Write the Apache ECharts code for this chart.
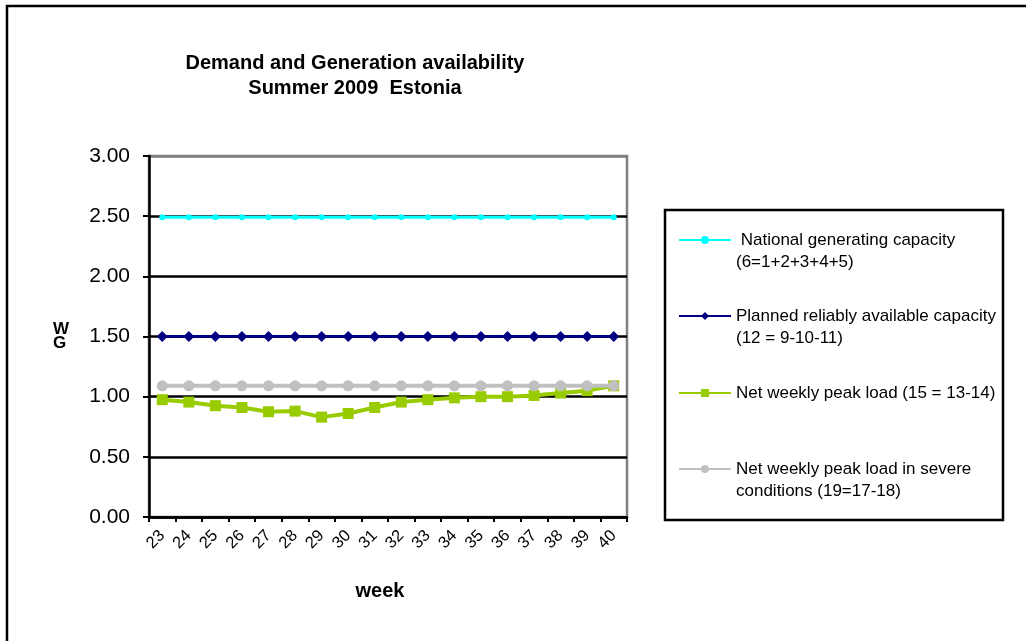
<!DOCTYPE html>
<html>
<head>
<meta charset="utf-8">
<script src="https://cdn.jsdelivr.net/npm/echarts@6/dist/echarts.min.js"></script>
<style>html,body{margin:0;padding:0;background:#fff;}#c{width:1026px;height:641px;}</style>
</head>
<body>
<div id="c"></div>
<script>
var weeks = ['23','24','25','26','27','28','29','30','31','32','33','34','35','36','37','38','39','40'];
var nationalCapacity = [2.49,2.49,2.49,2.49,2.49,2.49,2.49,2.49,2.49,2.49,2.49,2.49,2.49,2.49,2.49,2.49,2.49,2.49];
var reliableCapacity = [1.50,1.50,1.50,1.50,1.50,1.50,1.50,1.50,1.50,1.50,1.50,1.50,1.50,1.50,1.50,1.50,1.50,1.50];
var netPeakLoad = [0.975,0.955,0.925,0.91,0.875,0.88,0.83,0.86,0.91,0.955,0.975,0.99,1.00,1.00,1.01,1.03,1.05,1.09];
var severePeakLoad = [1.09,1.09,1.09,1.09,1.09,1.09,1.09,1.09,1.09,1.09,1.09,1.09,1.09,1.09,1.09,1.09,1.09,1.09];
var yTicks = ['0.00','0.50','1.00','1.50','2.00','2.50','3.00'];
var seriesNames = [' National generating capacity', 'Planned reliably available capacity', 'Net weekly peak load (15 = 13-14)', 'Net weekly peak load in severe'];
var secondLines = ['(6=1+2+3+4+5)', '(12 = 9-10-11)', '', 'conditions (19=17-18)'];

var FONT = 'Liberation Sans, Arial, sans-serif';
var chart = echarts.init(document.getElementById('c'));

function mkLegend(i, top) {
  var two = secondLines[i] !== '';
  return {
    data: [seriesNames[i]],
    left: 678,
    top: top,
    orient: 'vertical',
    itemWidth: 52,
    itemHeight: 10,
    itemGap: 0,
    padding: 0,
    selectedMode: false,
    formatter: function (n) { return two ? ' \n' + n + '\n' + secondLines[i] : n; },
    textStyle: { fontFamily: FONT, fontSize: 17, color: '#000', lineHeight: 22 }
  };
}

chart.setOption({
  animation: false,
  backgroundColor: '#fff',
  title: {
    text: 'Demand and Generation availability\nSummer 2009  Estonia',
    left: 350,
    top: 46,
    textAlign: 'center',
    textStyle: { fontFamily: FONT, fontSize: 20, fontWeight: 'bold', color: '#000', lineHeight: 25 }
  },
  graphic: [
    { type: 'rect', shape: { x: 7, y: 6, width: 1040, height: 660 }, style: { fill: 'none', stroke: '#000', lineWidth: 2.5 }, silent: true, z: 0 },
    { type: 'rect', shape: { x: 665, y: 210, width: 338, height: 310 }, style: { fill: 'none', stroke: '#000', lineWidth: 2.5 }, silent: true, z: 0 },
    { type: 'text', left: 53, top: 321, style: { text: 'W\nG', fontFamily: FONT, fontSize: 17, fontWeight: 'bold', fill: '#000', lineHeight: 14, align: 'center' }, silent: true }
  ],
  legend: [
    mkLegend(0, 207),
    mkLegend(1, 283),
    mkLegend(2, 382),
    mkLegend(3, 436)
  ],
  grid: { left: 149, right: 399, top: 156, bottom: 124, show: true, borderColor: '#808080', borderWidth: 2.5, backgroundColor: '#fff' },
  xAxis: {
    type: 'category',
    data: weeks,
    boundaryGap: true,
    name: 'week',
    nameLocation: 'middle',
    nameGap: 64,
    nameTextStyle: { fontFamily: FONT, fontSize: 20, fontWeight: 'bold', color: '#000', padding: [0, 16, 0, 0] },
    axisLine: { lineStyle: { color: '#000', width: 2.5 } },
    axisTick: { show: true, interval: 0, length: 5, lineStyle: { color: '#000', width: 2 } },
    axisLabel: { interval: 0, rotate: 45, fontFamily: FONT, fontSize: 16.5, color: '#000', margin: 16 },
    splitLine: { show: false }
  },
  yAxis: {
    type: 'value',
    min: 0,
    max: 3,
    interval: 0.5,
    axisLine: { show: true, lineStyle: { color: '#000', width: 2.5 } },
    axisTick: { show: true, length: 6, lineStyle: { color: '#000', width: 2 } },
    axisLabel: { fontFamily: FONT, fontSize: 21, color: '#000', margin: 19,
      formatter: function (v) { return yTicks[Math.round(v / 0.5)]; } },
    splitLine: { show: true, lineStyle: { color: ['#000','#000','#000','#000','#000','#000','#808080'], width: 2.5 } }
  },
  series: [
    { name: seriesNames[0], type: 'line', data: nationalCapacity, symbol: 'circle', symbolSize: 6,
      itemStyle: { color: '#00FFFF' }, lineStyle: { color: '#00FFFF', width: 3 }, z: 3 },
    { name: seriesNames[1], type: 'line', data: reliableCapacity, symbol: 'diamond', symbolSize: 11,
      itemStyle: { color: '#000080' }, lineStyle: { color: '#000080', width: 3 }, z: 3 },
    { name: seriesNames[2], type: 'line', data: netPeakLoad, symbol: 'rect', symbolSize: 11,
      itemStyle: { color: '#99CC00' }, lineStyle: { color: '#99CC00', width: 4 }, z: 3 },
    { name: seriesNames[3], type: 'line', data: severePeakLoad, symbol: 'circle', symbolSize: 11,
      itemStyle: { color: '#C0C0C0' }, lineStyle: { color: '#C0C0C0', width: 4 }, z: 4 }
  ]
});
</script>
</body>
</html>
